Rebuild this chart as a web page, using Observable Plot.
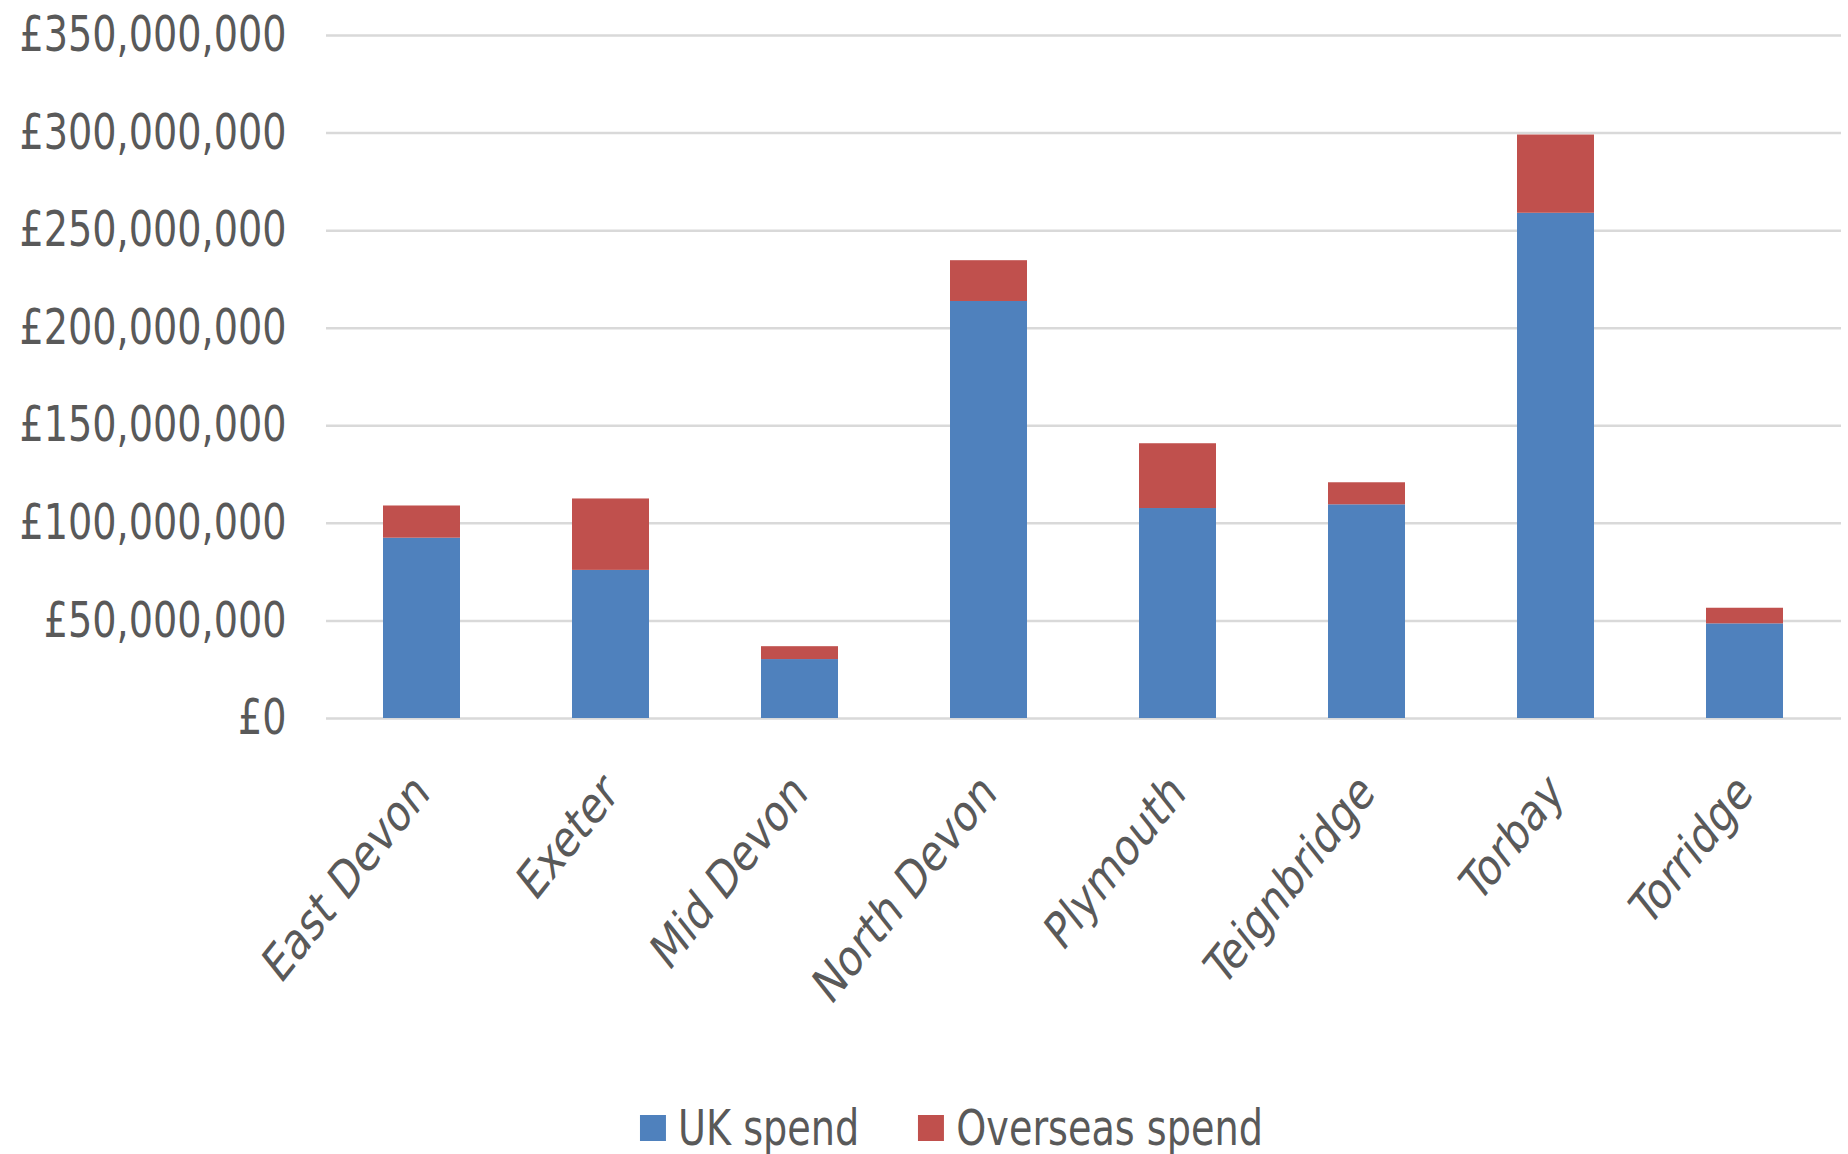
<!DOCTYPE html>
<html>
<head>
<meta charset="utf-8">
<script src="https://cdn.jsdelivr.net/npm/d3@7"></script>
<script src="https://cdn.jsdelivr.net/npm/@observablehq/plot@0.6"></script>
<style>
  html, body { margin: 0; padding: 0; background: #fff; }
  #chart { width: 1848px; }
  .legend { display: flex; align-items: center; height: 60px; margin-top: 8px; padding-left: 739px;
    transform: scaleX(0.866); transform-origin: 0 0; width: 2000px;
    font-family: "DejaVu Sans Condensed", "DejaVu Sans", sans-serif; font-size: 49px; color: #595959; }
  .legend .item { display: flex; align-items: center; margin-right: 68px; }
  .legend .sw { width: 30px; height: 26px; margin-right: 14px; }
</style>
</head>
<body>
<div id="chart"></div>
<script>
const districts = ["East Devon", "Exeter", "Mid Devon", "North Devon", "Plymouth", "Teignbridge", "Torbay", "Torridge"];
const ukSpend = [92400000, 75900000, 30200000, 213700000, 107600000, 109500000, 258900000, 48500000];
const overseasSpend = [16500000, 36600000, 6600000, 20900000, 33200000, 11300000, 40100000, 8000000];
const seriesNames = ["UK spend", "Overseas spend"];
const seriesColors = ["#4F81BD", "#C0504D"];
const yTicks = [0, 50000000, 100000000, 150000000, 200000000, 250000000, 300000000, 350000000];

const rows = [];
districts.forEach((d, i) => {
  rows.push({district: d, series: seriesNames[0], value: ukSpend[i]});
  rows.push({district: d, series: seriesNames[1], value: overseasSpend[i]});
});

const fmt = v => "£" + d3.format(",")(v);

const chart = Plot.plot({
  width: 1848,
  height: 1090,
  marginLeft: 326,
  marginRight: 7,
  marginTop: 35,
  marginBottom: 372,
  style: {fontFamily: '"DejaVu Sans Condensed", "DejaVu Sans", sans-serif', fontSize: "49px", color: "#595959", background: "#fff"},
  x: {domain: districts, paddingInner: 0.59, paddingOuter: 0.295, label: null},
  y: {domain: [0, 350000000], label: null},
  color: {domain: seriesNames, range: seriesColors},
  marks: [
    Plot.gridY(yTicks, {stroke: "#D9D9D9", strokeOpacity: 1, strokeWidth: 2.5}),
    Plot.barY(rows, {x: "district", y: "value", fill: "series", order: seriesNames}),
    Plot.axisY(yTicks, {tickSize: 0, tickPadding: 40, tickFormat: fmt, label: null, fill: "#595959"}),
    Plot.axisX({tickSize: 0, tickRotate: -45, tickPadding: 65, label: null, fill: "#595959"})
  ]
});
document.getElementById("chart").appendChild(chart);

// The reference's text is horizontally condensed: wrap each axis label in a group
// that squeezes it about its own anchor point.
const SVGNS = "http://www.w3.org/2000/svg";
function squeeze(sel, sx, sy) {
  chart.querySelectorAll(sel).forEach(t => {
    let lx = parseFloat(t.getAttribute("x")) || 0;
    let ly = parseFloat(t.getAttribute("y")) || 0;
    let ax = lx, ay = ly;
    const tl = t.transform && t.transform.baseVal;
    if (tl && tl.numberOfItems) {
      const m = tl.consolidate().matrix;
      ax = m.a * lx + m.c * ly + m.e;
      ay = m.b * lx + m.d * ly + m.f;
    }
    const g = document.createElementNS(SVGNS, "g");
    g.setAttribute("transform", `translate(${ax},${ay}) scale(${sx},${sy}) translate(${-ax},${-ay})`);
    t.parentNode.insertBefore(g, t);
    g.appendChild(t);
  });
}
squeeze('g[aria-label^="y-axis tick label"] text', 0.866, 1);
squeeze('g[aria-label^="x-axis tick label"] text', 0.85, 1.07);

const legend = document.createElement("div");
legend.className = "legend";
seriesNames.forEach((name, i) => {
  const item = document.createElement("div");
  item.className = "item";
  const sw = document.createElement("div");
  sw.className = "sw";
  sw.style.background = seriesColors[i];
  const t = document.createElement("span");
  t.textContent = name;
  item.appendChild(sw);
  item.appendChild(t);
  legend.appendChild(item);
});
document.body.appendChild(legend);
</script>
</body>
</html>
